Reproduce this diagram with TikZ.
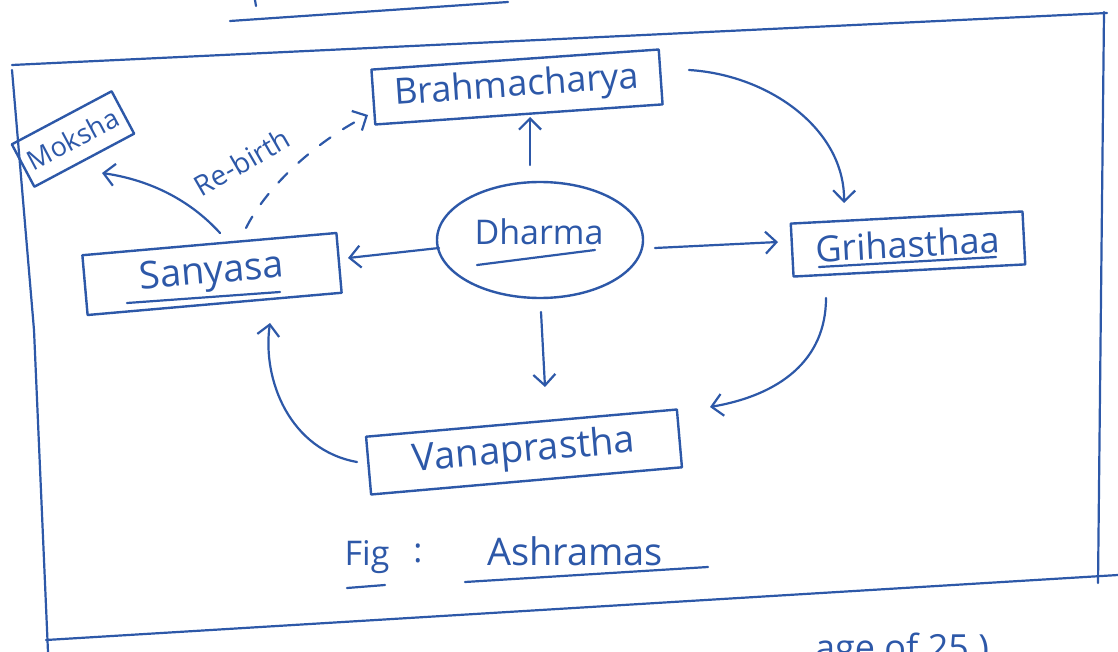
\documentclass[tikz,border=0pt]{standalone}
\usepackage{fontspec}
\setmainfont{Open Sans}
\usetikzlibrary{arrows.meta,calc,shapes.geometric}
\definecolor{ink}{RGB}{45,88,168}
\begin{document}
\begin{tikzpicture}[x=1pt,y=-1pt,
  inkline/.style={draw=ink,line width=2.2pt,line cap=round,line join=round},
  box/.style={draw=ink,line width=2.4pt,text=ink,inner sep=0pt,line join=round,
    font=\fontsize{36}{40}\selectfont},
  txt/.style={text=ink,inner sep=0pt},
  arr/.style={inkline,-{Straight Barb[length=11pt,width=22pt]}},
  dasharr/.style={arr,dash pattern=on 13pt off 15pt},
  ]
\fill[white] (0,0) rectangle (1118,652);
\useasboundingbox (0,0) rectangle (1118,652);

% page frame and stray marks
\draw[inkline] (230,21) -- (508,2);
\draw[inkline] (255,0) -- (256,6);
\draw[inkline] (12,65) -- (1107,13);
\draw[inkline] (1104,12) -- (1098,583);
\draw[inkline] (12,70) -- (34,330) -- (48,652);
\draw[inkline] (46,640) -- (1118,575);

% nodes
\node[box,rotate=4,minimum width=288pt,minimum height=55pt] (brahma) at (517,87) {Brahmacharya};
\node[box,rotate=3,minimum width=232pt,minimum height=53pt] (grih) at (908,244) {Grihasthaa};
\node[box,rotate=5,minimum width=255pt,minimum height=60pt,font=\fontsize{38}{40}\selectfont] (sany) at (212,274) {Sanyasa};
\node[box,rotate=5,minimum width=312pt,minimum height=58pt,font=\fontsize{38}{40}\selectfont] (vana) at (524,452) {Vanaprastha};
\node[box,rotate=28,minimum width=113pt,minimum height=48pt,font=\fontsize{27}{30}\selectfont] (moksha) at (73,139) {Moksha};
\node[draw=ink,line width=2.4pt,ellipse,minimum width=206pt,minimum height=116pt,inner sep=0pt] (dharma) at (540,240) {};
\node[txt,font=\fontsize{34}{38}\selectfont] (dharmatxt) at (539,232) {Dharma};

% underlines of labels
\draw[inkline] ($(dharma)+(-63,25)$) -- ($(dharma)+(55,10)$);
\draw[inkline] ($(sany)+(-85,29)$) -- ($(sany)+(68,18)$);
\draw[inkline] ($(grih)+(-89,23)$) -- ($(grih)+(88,13)$);

% arrows from Dharma
\draw[arr] ($(dharma)+(-10,-75)$) -- ($(brahma)+(13,30)$);
\draw[arr] ($(dharma)+(115,8)$) -- ($(grih)+(-130,-2)$);
\draw[arr] ($(dharma)+(-101,8)$) -- ($(sany)+(136,-16)$);
\draw[arr] ($(dharma)+(1,72)$) -- ($(vana)+(21,-65)$);

% cycle
\draw[arr] ($(brahma)+(172,-17)$) .. controls (770,75) and (845,130) .. ($(grih)+(-64,-41)$);
\draw[arr] ($(grih)+(-82,54)$) .. controls (826,360) and (780,395) .. ($(vana)+(186,-45)$);
\draw[arr] ($(vana)+(-167,10)$) .. controls (290,450) and (262,380) .. ($(sany)+(58,49)$);
\draw[arr] ($(sany)+(8,-41)$) .. controls (190,200) and (150,180) .. ($(moksha)+(29,34)$);
\draw[dasharr] ($(sany)+(34,-46)$) .. controls (265,190) and (310,145) .. ($(brahma)+(-149,28)$);
\node[txt,rotate=30,font=\fontsize{28}{30}\selectfont] (rebirth) at (242,162) {Re-birth};

% caption
\node[txt,font=\fontsize{34}{38}\selectfont] (fig) at (367,557) {Fig};
\node[txt,font=\fontsize{34}{38}\selectfont] (colon) at (418,553) {:};
\node[txt,font=\fontsize{38}{40}\selectfont] (ashramas) at (575,551) {Ashramas};
\draw[inkline] ($(fig)+(-20,31)$) -- ($(fig)+(18,28)$);
\draw[inkline] ($(ashramas)+(-110,31)$) -- ($(ashramas)+(133,16)$);

% cut-off line at the bottom of the page
\node[txt,anchor=base west,font=\fontsize{36}{40}\selectfont] (bottomtxt) at (815,660) {age of 25 )};
\end{tikzpicture}
\end{document}
